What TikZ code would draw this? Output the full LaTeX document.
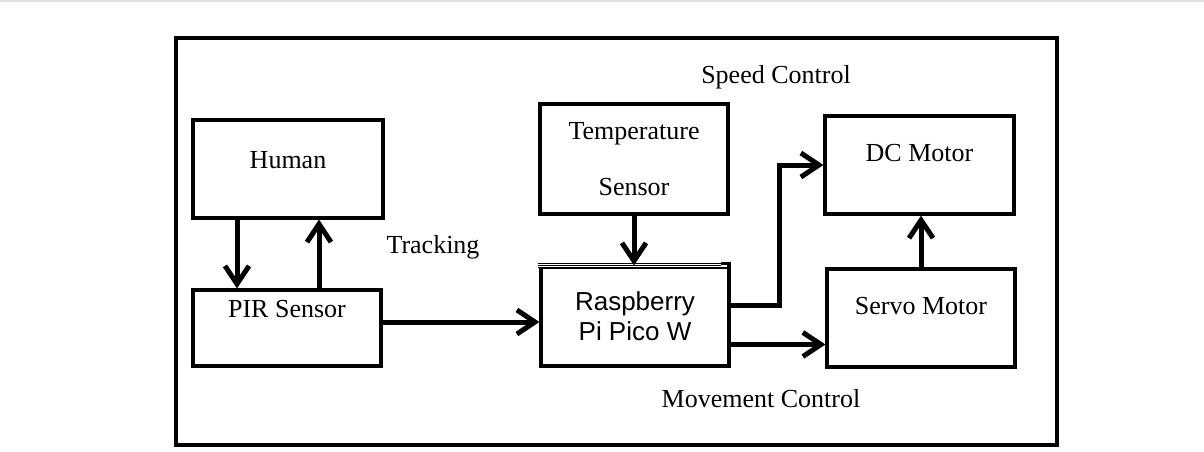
\documentclass[tikz,border=0pt]{standalone}
\usepackage{fontspec}
\setmainfont{Liberation Serif}
\newfontfamily\picofont{Liberation Sans}
\usetikzlibrary{shapes, arrows.meta}
\tikzstyle{block} = [rectangle, draw=black, line width=1.6pt, minimum width=94pt, minimum height=49pt, inner sep=0pt, font=\fontsize{13}{16}\selectfont]
\tikzstyle{arrow} = [line width=2.5pt, -{Straight Barb[length=9pt, width=12pt, line width=2.5pt]}]
\tikzstyle{note} = [font=\fontsize{13}{16}\selectfont]

\begin{document}
\begin{tikzpicture}[x=0.5pt, y=-0.5pt]
\useasboundingbox (0,0) rectangle (1204,451);
\draw[black!12, line width=1pt] (0,1) -- (1204,1);
\draw[line width=1.6pt] (176,38) rectangle (1057,445);

% blocks
\node[block, minimum width=95pt, label={[note, yshift=4.5pt]center:Human}] (human) at (288,169) {};
\node[block, minimum height=38pt, label={[note, yshift=9.5pt]center:PIR Sensor}] (pir) at (287,328) {};
\node[block, minimum height=55pt, align=center] (temp) at (634,159) {Temperature\\[12pt]Sensor};
\node[block, minimum height=49.5pt, align=center, font=\picofont\fontsize{13}{15}\selectfont] (pico) at (635,316.5) {Raspberry\\Pi Pico W};
\node[block, minimum width=94.5pt, label={[note, yshift=6pt]center:DC Motor}] (dc) at (919.5,165) {};
\node[block, label={[note, yshift=6pt]center:Servo Motor}] (servo) at (921,318) {};

% thin lines on the top edge of the pico box
\draw[white, line width=2pt] ([xshift=-6pt]pico.north west) -- ([xshift=-2pt]pico.north east);
\draw[line width=0.4pt] ([xshift=-0.8pt, yshift=1pt]pico.north west) -- ([xshift=-5pt, yshift=1pt]pico.north east);
\draw[line width=0.4pt] ([xshift=-0.8pt]pico.north west) -- ([xshift=-5pt]pico.north east);
\draw[line width=0.4pt] ([xshift=-0.8pt, yshift=-1pt]pico.north west) -- ([xshift=-5pt, yshift=-1pt]pico.north east);
\draw[line width=1.6pt] ([yshift=0.8pt]pico.north east) -- ++(-5pt,0);

% labels
\node[note] (speed) at (776,77) {Speed Control};
\node[note] (track) at (433,247) {Tracking};
\node[note] (move) at (761,399) {Movement Control};

% connections
\draw[arrow] (human.south -| 237,0) -- (pir.north -| 237,0);
\draw[arrow] (pir.north -| 319,0) -- (human.south -| 319,0);
\draw[arrow] ([yshift=3pt]pir.east) -- ([yshift=3pt]pir.east -| pico.west);
\draw[arrow] (temp.south) -- (temp.south |- pico.north);
\draw[arrow] ([yshift=5.5pt]pico.east) -- ++(24.5pt,0) |- (dc.west);
\draw[arrow] ([yshift=-14pt]pico.east) -- ([yshift=-14pt]pico.east -| servo.west);
\draw[arrow] (servo.north) -- (servo.north |- dc.south);
\end{tikzpicture}
\end{document}
